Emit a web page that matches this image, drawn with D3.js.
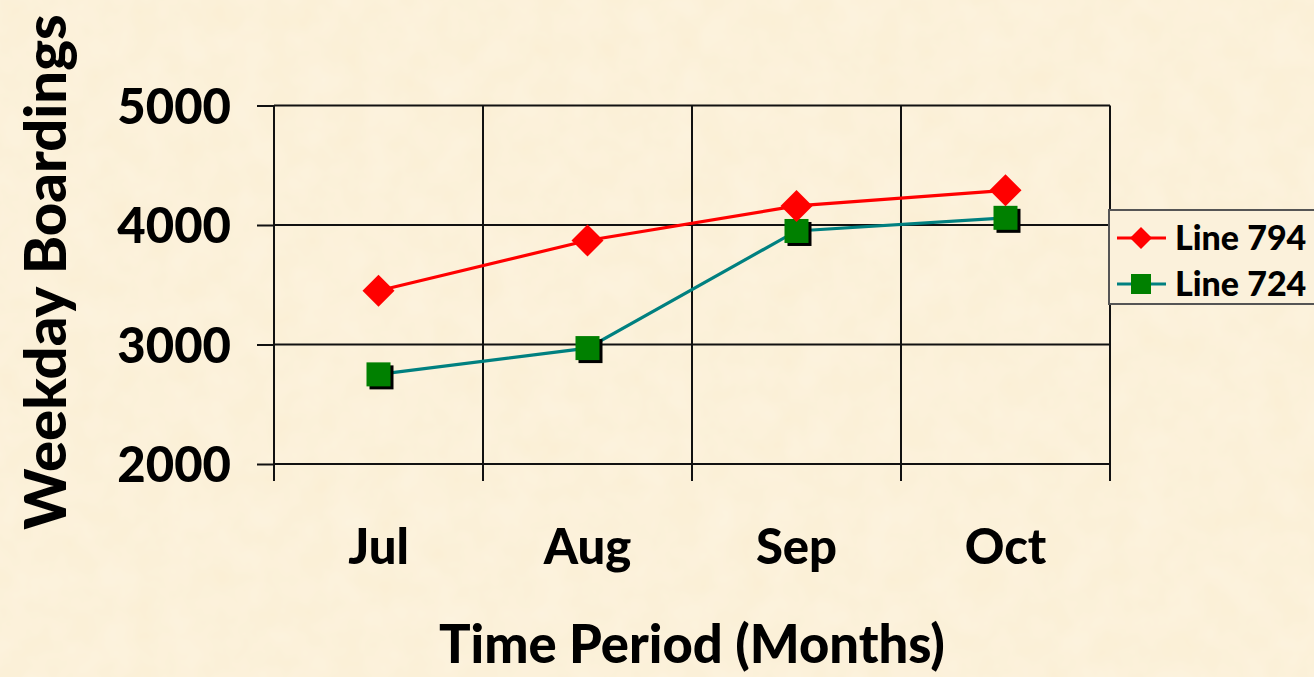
<!DOCTYPE html>
<html><head><meta charset="utf-8">
<script src="https://cdn.jsdelivr.net/npm/d3@7/dist/d3.min.js"></script>
<style>
html,body{margin:0;padding:0;background:#fbf0d8;}
svg{display:block;}
text{font-family:Lato,"Open Sans",sans-serif;font-weight:900;fill:#000;}
</style></head><body>
<svg id="c" width="1314" height="677"></svg>
<script>
const months = ["Jul","Aug","Sep","Oct"];
const line794 = [3450,3870,4160,4290];
const line724 = [2750,2970,3950,4060];
const yTicks = [2000,3000,4000,5000];
const seriesNames = ["Line 794","Line 724"];

const svg = d3.select("#c");
const W=1314,H=677;
const defs = svg.append("defs");
const f = defs.append("filter").attr("id","tex").attr("x",0).attr("y",0).attr("width","100%").attr("height","100%");
f.append("feTurbulence").attr("type","fractalNoise").attr("baseFrequency","0.03").attr("numOctaves",3).attr("seed",4).attr("result","n");
f.append("feColorMatrix").attr("in","n").attr("type","matrix")
 .attr("values","0 0 0 0 0.99  0 0 0 0 0.95  0 0 0 0 0.86  0 0 0 0.45 -0.05");
svg.append("rect").attr("width",W).attr("height",H).attr("fill","#fbefd5");
svg.append("rect").attr("width",W).attr("height",H).attr("filter","url(#tex)");

const pL=274,pR=1110,pT=105.5,pB=464;
const x = d3.scaleBand().domain(months).range([pL,pR]).padding(0);
const y = d3.scaleLinear().domain([2000,5000]).range([pB,pT]);
const cx = d => x(d)+x.bandwidth()/2;

svg.append("g").selectAll("line").data(yTicks).join("line")
 .attr("x1",pL).attr("x2",pR).attr("y1",d=>y(d)).attr("y2",d=>y(d))
 .attr("stroke","#111").attr("stroke-width",2);
const bounds = months.map(m=>x(m)).concat([pR]);
svg.append("g").selectAll("line").data(bounds).join("line")
 .attr("x1",d=>d).attr("x2",d=>d).attr("y1",pT).attr("y2",pB+17)
 .attr("stroke","#111").attr("stroke-width",2);

const ya = svg.append("g").attr("transform",`translate(${pL},0)`)
 .call(d3.axisLeft(y).tickValues(yTicks).tickSize(17).tickSizeOuter(0).tickPadding(26).tickFormat(d3.format("d")));
ya.select(".domain").remove();
ya.selectAll(".tick line").attr("stroke","#111").attr("stroke-width",2);
ya.selectAll(".tick text").style("font-size","49px").attr("dy","0.36em");
const xa = svg.append("g").attr("transform",`translate(0,${pB})`)
 .call(d3.axisBottom(x).tickSize(0).tickPadding(100));
xa.select(".domain").remove();
xa.selectAll(".tick text").style("font-size","49px").attr("dy","0");

svg.append("text").attr("x",692).attr("y",663).attr("text-anchor","middle").style("font-size","52.5px").text("Time Period (Months)");
svg.append("text").attr("transform","translate(66,272) rotate(-90)").attr("text-anchor","middle").style("font-size","58px").text("Weekday Boardings");

const lg = d3.line().x((d,i)=>cx(months[i])).y(d=>y(d));
svg.append("path").attr("d",lg(line724)).attr("fill","none").attr("stroke","#008080").attr("stroke-width",3.2);
svg.append("path").attr("d",lg(line794)).attr("fill","none").attr("stroke","#ff0000").attr("stroke-width",3.2);

const sq=24;
const sg = svg.append("g");
sg.selectAll("rect.sh").data(line724).join("rect").attr("class","sh")
 .attr("x",(d,i)=>cx(months[i])-sq/2+3).attr("y",d=>y(d)-sq/2+3).attr("width",sq).attr("height",sq).attr("fill","#000");
sg.selectAll("rect.m").data(line724).join("rect").attr("class","m")
 .attr("x",(d,i)=>cx(months[i])-sq/2).attr("y",d=>y(d)-sq/2).attr("width",sq).attr("height",sq).attr("fill","#008000");
const dm=16;
svg.append("g").selectAll("path").data(line794).join("path")
 .attr("d",(d,i)=>{const X=cx(months[i]),Y=y(d);return `M${X},${Y-dm}L${X+dm},${Y}L${X},${Y+dm}L${X-dm},${Y}Z`;})
 .attr("fill","#ff0000");

const L = svg.append("g");
L.append("rect").attr("x",1109).attr("y",210).attr("width",240).attr("height",94)
 .attr("fill","#fbf1db").attr("stroke","#555").attr("stroke-width",2);
const ly=[238,284];
const lc=["#ff0000","#008080"];
ly.forEach((yy,i)=>{
  L.append("line").attr("x1",1117).attr("x2",1166).attr("y1",yy).attr("y2",yy).attr("stroke",lc[i]).attr("stroke-width",3.2);
  if(i===0){L.append("path").attr("d",`M1141,${yy-11}L1152,${yy}L1141,${yy+11}L1130,${yy}Z`).attr("fill","#ff0000");}
  else{L.append("rect").attr("x",1131).attr("y",yy-10).attr("width",20).attr("height",20).attr("fill","#008000");}
  L.append("text").attr("x",1175).attr("y",yy+12).style("font-size","34px").text(seriesNames[i]);
});
</script></body></html>
